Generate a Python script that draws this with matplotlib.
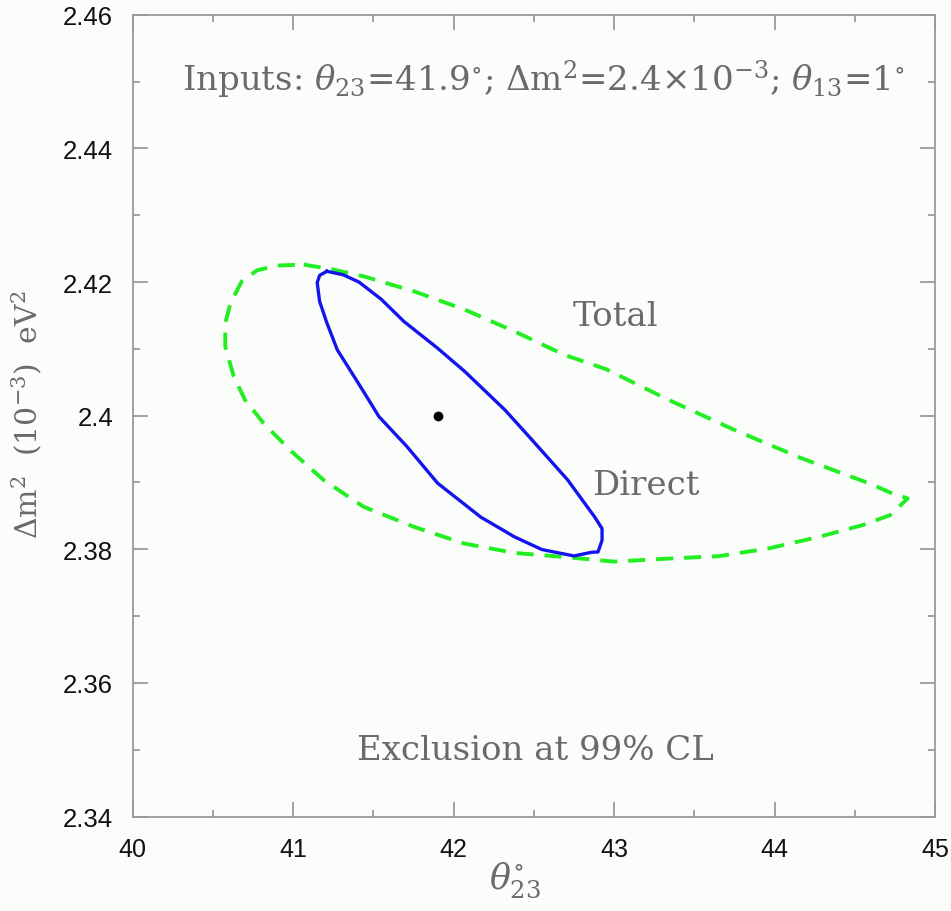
import matplotlib
matplotlib.use("Agg")
import matplotlib.pyplot as plt
from matplotlib.ticker import MultipleLocator, FixedLocator

# ---- data ----
direct_theta = [41.21, 41.31, 41.41, 41.55, 41.69, 41.90, 42.07, 42.32, 42.48, 42.71,
                42.88, 42.925, 42.925, 42.90, 42.86, 42.75, 42.55, 42.38, 42.17, 41.90,
                41.71, 41.535, 41.40, 41.275, 41.21, 41.165, 41.15, 41.165, 41.21]
direct_dm2 = [2.4216, 2.4211, 2.4200, 2.4174, 2.4141, 2.4101, 2.4066, 2.40085, 2.3966, 2.3904,
              2.3848, 2.3831, 2.38135, 2.3796, 2.37955, 2.3790, 2.37996, 2.38185, 2.3848, 2.3899,
              2.39535, 2.39985, 2.4051, 2.40986, 2.4139, 2.4171, 2.4199, 2.4210, 2.4216]

total_theta = [41.066, 41.23, 41.44, 41.754, 42.07, 42.38, 42.69, 42.95, 43.34, 43.75,
               44.17, 44.59, 44.72, 44.83, 44.72, 44.546, 44.275, 43.96, 43.65, 43.34,
               43.00, 42.69, 42.38, 42.066, 41.754, 41.44, 41.19, 40.98, 40.816, 40.70,
               40.63, 40.577, 40.577, 40.61, 40.68, 40.775, 40.90, 41.066]
total_dm2 = [2.42261, 2.42196, 2.42085, 2.4186, 2.41586, 2.4126, 2.4091, 2.40696, 2.40236, 2.39786,
             2.39361, 2.38986, 2.3885, 2.38761, 2.3851, 2.3836, 2.38185, 2.38011, 2.37896, 2.37861,
             2.37815, 2.37885, 2.37945, 2.38086, 2.38335, 2.38635, 2.39036, 2.39486, 2.39886, 2.40236,
             2.40585, 2.41035, 2.41386, 2.41686, 2.4201, 2.42175, 2.42246, 2.42261]

best_theta = [41.9]
best_dm2 = [2.40]

x_ticks = [40, 41, 42, 43, 44, 45]
x_ticklabels = ["40", "41", "42", "43", "44", "45"]
y_ticks = [2.34, 2.36, 2.38, 2.40, 2.42, 2.44, 2.46]
y_ticklabels = ["2.34", "2.36", "2.38", "2.4", "2.42", "2.44", "2.46"]

# ---- style ----
plt.rcParams['mathtext.fontset'] = 'dejavuserif'

bg = '#fbfdfb'
txtc = '#6a6a6a'
spinec = '#9a9a9a'

fig = plt.figure(figsize=(9.51, 9.12), dpi=100, facecolor=bg)
ax = fig.add_axes([0.1395, 0.1036, 0.8437, 0.8791], facecolor=bg)

ax.plot(total_theta, total_dm2, color='#22ee22', lw=2.8,
        linestyle=(0, (4.4, 2.8)), solid_capstyle='butt', dash_capstyle='butt')
ax.plot(direct_theta, direct_dm2, color='#1414ee', lw=2.4)
ax.plot(best_theta, best_dm2, 'o', color='black', ms=6)

ax.set_xlim(40, 45)
ax.set_ylim(2.34, 2.46)

ax.xaxis.set_major_locator(FixedLocator(x_ticks))
ax.set_xticklabels(x_ticklabels)
ax.xaxis.set_minor_locator(MultipleLocator(0.5))
ax.yaxis.set_major_locator(FixedLocator(y_ticks))
ax.set_yticklabels(y_ticklabels)
ax.yaxis.set_minor_locator(MultipleLocator(0.01))

ax.tick_params(which='both', direction='in', top=True, right=True, color=spinec, width=1.3)
ax.tick_params(which='major', length=10.6)
ax.tick_params(which='minor', length=5.3)
ax.tick_params(axis='x', which='major', pad=15, labelsize=18, labelcolor='#111111')
ax.tick_params(axis='y', which='major', pad=14, labelsize=18.5, labelcolor='#111111')
for lab in ax.get_xticklabels() + ax.get_yticklabels():
    lab.set_family('Liberation Sans')

for s in ax.spines.values():
    s.set_color(spinec)
    s.set_linewidth(1.3)

serif = 'DejaVu Serif'
fs = 24.5
ax.text(42.56, 2.4487,
        r"Inputs: $\theta_{23}$=41.9$^{\circ}$; $\Delta$m$^{2}$=2.4$\times$10$^{-3}$; $\theta_{13}$=1$^{\circ}$",
        ha='center', va='baseline', fontsize=fs, family=serif, color=txtc)
ax.text(43.01, 2.41496, "Total", ha='center', va='center', fontsize=fs, family=serif, color=txtc)
ax.text(43.2, 2.3896, "Direct", ha='center', va='center', fontsize=fs, family=serif, color=txtc)
ax.text(42.51, 2.3499, "Exclusion at 99% CL", ha='center', va='center', fontsize=fs,
        family=serif, color=txtc)

fig.text(27 / 951, 1 - 415 / 912, r"$\Delta$m$^{2}$  (10$^{-3}$)  eV$^{2}$", rotation=90,
         ha='center', va='center', fontsize=21.5, family=serif, color=txtc)
fig.text(515 / 951, 1 - 880 / 912, r"$\theta^{\circ}_{23}$", ha='center', va='center',
         fontsize=25, family=serif, color=txtc)

fig.savefig("out.png", dpi=100, facecolor=bg)
